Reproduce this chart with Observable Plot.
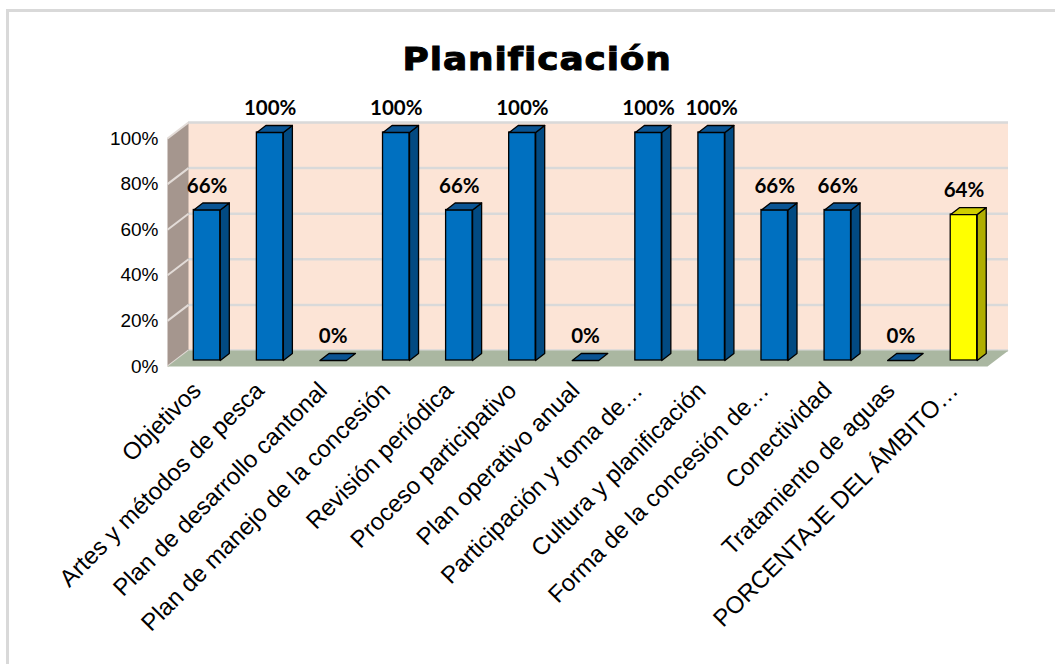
<!DOCTYPE html>
<html>
<head>
<meta charset="utf-8">
<script src="https://cdn.jsdelivr.net/npm/d3@7"></script>
<script src="https://cdn.jsdelivr.net/npm/@observablehq/plot@0.6"></script>
<style>
  html, body { margin: 0; padding: 0; background: #fff; }
  #wrap { position: relative; width: 1055px; height: 664px; overflow: hidden; background: #fff; }
  #frame { position: absolute; left: 6px; top: 9px; right: -10px; bottom: -10px;
           border-top: 3px solid #D9D9D9; border-left: 3px solid #D9D9D9; }
  #title { position: absolute; left: 0; width: 1075px; top: 43px; text-align: center;
           font-family: "DejaVu Sans", "Liberation Sans", sans-serif; font-weight: bold;
           font-size: 32px; line-height: 32px; letter-spacing: 0.8px; color: #000;
           -webkit-text-stroke: 1px #000; }
  #title span { display: inline-block; transform: scaleX(1.12); }
  #chart { position: absolute; left: 0; top: 0; }
  #chart svg { overflow: visible; }
</style>
</head>
<body>
<div id="wrap">
  <div id="frame"></div>
  <div id="title"><span>Planificación</span></div>
  <div id="chart"></div>
</div>
<script>
// ---- data ----
const categories = [
  "Objetivos",
  "Artes y métodos de pesca",
  "Plan de desarrollo cantonal",
  "Plan de manejo de la concesión",
  "Revisión periódica",
  "Proceso participativo",
  "Plan operativo anual",
  "Participación y toma de…",
  "Cultura y planificación",
  "Forma de la concesión de…",
  "Conectividad",
  "Tratamiento de aguas",
  "PORCENTAJE DEL ÁMBITO…"
];
const values = [66, 100, 0, 100, 66, 100, 0, 100, 100, 66, 66, 0, 64];
const groups = ["item","item","item","item","item","item","item","item","item","item","item","item","total"];
const yTicks = [0, 20, 40, 60, 80, 100];

// ---- styling / geometry constants ----
const barL = 0.29, barR = 0.71;         // bar front face within category slot
const bdx = 0.143, bdy = 3.07;          // bar depth (x units, % units)
const wdx = 0.333, wdy = 7.02;          // wall depth
const n = categories.length;
const colors = {
  item:  {front: "#0070C0", side: "#024A82", top: "#0A5493"},
  total: {front: "#FFFF00", side: "#B0AE00", top: "#CFCD00"}
};

const rows = categories.map((name, i) => ({i, name, v: values[i], g: groups[i]}));

function sidePoly(r) {
  const x = r.i + barR;
  return [[x, 0], [x + bdx, bdy], [x + bdx, r.v + bdy], [x, r.v], [x, 0]]
    .map(([x, y]) => ({x, y, z: r.name, g: r.g}));
}
function topPoly(r) {
  const a = r.i + barL, b = r.i + barR, v = r.v;
  return [[a, v], [b, v], [b + bdx, v + bdy], [a + bdx, v + bdy], [a, v]]
    .map(([x, y]) => ({x, y, z: r.name, g: r.g}));
}
const sideWall = [[0, 0], [0, 100], [wdx, 100 + wdy], [wdx, wdy], [0, 0]].map(([x, y]) => ({x, y}));
const floor = [[0, 0], [n, 0], [n + wdx, wdy], [wdx, wdy], [0, 0]].map(([x, y]) => ({x, y}));

const barMarks = [];
for (const g of ["item", "total"]) {
  const rs = rows.filter(r => r.g === g);
  const pos = rs.filter(r => r.v > 0);
  barMarks.push(
    Plot.rect(pos, {x1: r => r.i + barL, x2: r => r.i + barR, y1: 0, y2: "v",
      fill: colors[g].front, stroke: "#000", strokeWidth: 1.3, dx: 8, dy: -6}),
    Plot.line(pos.flatMap(sidePoly), {x: "x", y: "y", z: "z",
      fill: colors[g].side, stroke: "#000", strokeWidth: 1.3, dx: 8, dy: -6}),
    Plot.line(rs.flatMap(topPoly), {x: "x", y: "y", z: "z",
      fill: colors[g].top, stroke: "#000", strokeWidth: 1.3, dx: 8, dy: -6})
  );
}

const chart = Plot.plot({
  width: 1055,
  height: 664,
  marginLeft: 167,
  marginRight: 68,
  marginTop: 138,
  marginBottom: 298,
  style: {fontFamily: "'Liberation Sans', Arial, sans-serif", fontSize: "19px", color: "#000", background: "transparent", overflow: "visible"},
  x: {domain: [0, n], axis: null},
  y: {domain: [0, 100], ticks: yTicks, tickFormat: d => d + "%", tickSize: 0, tickPadding: 9, label: null},
  marks: [
    // back wall
    Plot.rect([0], {x1: wdx, x2: n + wdx, y1: wdy, y2: 100 + wdy, fill: "#FCE4D6"}),
    Plot.ruleY(yTicks, {y: d => d + wdy, x1: wdx, x2: n + wdx, stroke: "#D9D9D9", strokeWidth: 2.5}),
    // side wall
    Plot.line(sideWall, {x: "x", y: "y", fill: "#A5968E", stroke: "none"}),
    Plot.link(yTicks, {x1: 0, y1: d => d, x2: wdx, y2: d => d + wdy, stroke: "#E3DCD8", strokeWidth: 2}),
    // floor
    Plot.line(floor, {x: "x", y: "y", fill: "#AAB7A1", stroke: "none"}),
    // bars
    ...barMarks,
    // value labels
    Plot.text(rows, {x: r => r.i + 0.5, y: "v", text: r => r.v + "%", dx: 8, dy: -30,
      fontFamily: "Lato, 'Open Sans', sans-serif", fontWeight: "bold", fontSize: 20.5, fill: "#000"}),
    // category labels
    Plot.text(rows, {x: r => r.i + 0.5, y: 0, text: "name", rotate: -45, textAnchor: "end",
      dx: -2, dy: 20, fontSize: 24, fill: "#000"})
  ]
});
document.getElementById("chart").appendChild(chart);
</script>
</body>
</html>
